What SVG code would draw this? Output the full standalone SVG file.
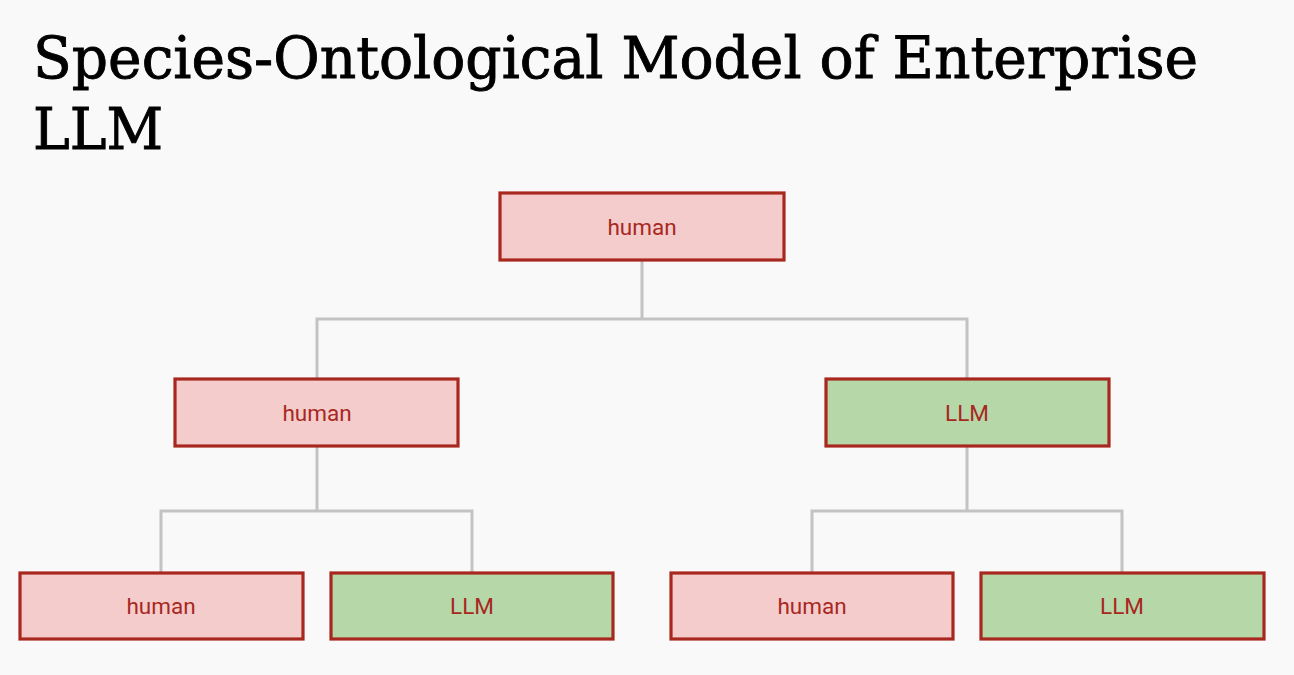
<svg xmlns="http://www.w3.org/2000/svg" width="1294" height="675" viewBox="0 0 1294 675">
<style>
.bg{fill:#f9f9f9}
.title{font-family:"DejaVu Serif","Liberation Serif",serif;font-size:58px;fill:#000;stroke:#000;stroke-width:0.9}
.node rect{stroke:#a8281f;stroke-width:3.2}
.h rect{fill:#f4cccc}
.l rect{fill:#b6d7a8}
.node text{font-family:Roboto,"Liberation Sans",sans-serif;font-size:22.5px;fill:#a8281f;text-anchor:middle}
.conn{fill:none;stroke:#c3c3c3;stroke-width:3}
</style>
<rect class="bg" x="0" y="0" width="1294" height="675"/>
<text class="title" x="33" y="78" textLength="1165" lengthAdjust="spacingAndGlyphs">Species-Ontological Model of Enterprise</text>
<text class="title" x="33" y="149" textLength="130" lengthAdjust="spacingAndGlyphs">LLM</text>
<g id="connectors">
<path class="conn" d="M642 261V319H317V378M642 319H967V378"/>
<path class="conn" d="M317 447V511H161V572M317 511H472V572"/>
<path class="conn" d="M967 447V511H812V572M967 511H1122V572"/>
</g>
<g id="n1" class="node h"><rect x="500" y="193" width="284" height="67"/><text x="642" y="235">human</text></g>
<g id="n2" class="node h"><rect x="175" y="379" width="283" height="67"/><text x="317" y="421">human</text></g>
<g id="n3" class="node l"><rect x="826" y="379" width="283" height="67"/><text x="967" y="421">LLM</text></g>
<g id="n4" class="node h"><rect x="20" y="573" width="283" height="66"/><text x="161" y="614">human</text></g>
<g id="n5" class="node l"><rect x="331" y="573" width="282" height="66"/><text x="472" y="614">LLM</text></g>
<g id="n6" class="node h"><rect x="671" y="573" width="282" height="66"/><text x="812" y="614">human</text></g>
<g id="n7" class="node l"><rect x="981" y="573" width="283" height="66"/><text x="1122" y="614">LLM</text></g>
</svg>
